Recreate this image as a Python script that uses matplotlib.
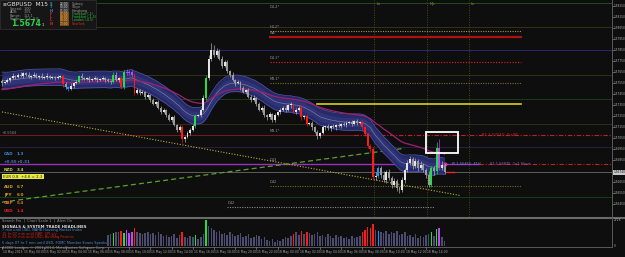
import matplotlib
matplotlib.use("Agg")
import matplotlib.pyplot as plt
from matplotlib.patches import Rectangle
from matplotlib.lines import Line2D
from matplotlib.transforms import blended_transform_factory

# ---------------- data ----------------
symbol = "GBPUSD"
timeframe = "M15"
last_price = 1.5674
open_first = 1.5757

closes = [1.5755, 1.5756, 1.5758, 1.5760, 1.5762, 1.5761, 1.5763, 1.5762, 1.5764, 1.5763,
          1.5761, 1.5762, 1.5763, 1.5761, 1.5762, 1.5760, 1.5761, 1.5762, 1.5760, 1.5761,
          1.5760, 1.5761, 1.5762, 1.5754, 1.5752, 1.5750, 1.5753, 1.5755, 1.5756, 1.5762,
          1.5760, 1.5759, 1.5760, 1.5758, 1.5759, 1.5760, 1.5758, 1.5759, 1.5760, 1.5758,
          1.5757, 1.5756, 1.5763, 1.5758, 1.5760, 1.5752, 1.5765, 1.5764, 1.5765, 1.5763,
          1.5746, 1.5749, 1.5746, 1.5747, 1.5743, 1.5744, 1.5740, 1.5736, 1.5738, 1.5733,
          1.5729, 1.5731, 1.5726, 1.5722, 1.5724, 1.5717, 1.5713, 1.5715, 1.5704, 1.5706,
          1.5710, 1.5713, 1.5716, 1.5725, 1.5726, 1.5731, 1.5742, 1.5760, 1.5777, 1.5785,
          1.5781, 1.5784, 1.5777, 1.5771, 1.5774, 1.5766, 1.5763, 1.5758, 1.5755, 1.5756,
          1.5751, 1.5747, 1.5749, 1.5743, 1.5740, 1.5742, 1.5736, 1.5731, 1.5733, 1.5726,
          1.5724, 1.5727, 1.5722, 1.5726, 1.5729, 1.5731, 1.5733, 1.5731, 1.5735, 1.5736,
          1.5729, 1.5731, 1.5733, 1.5724, 1.5725, 1.5718, 1.5719, 1.5715, 1.5711, 1.5707,
          1.5710, 1.5715, 1.5716, 1.5714, 1.5716, 1.5715, 1.5717, 1.5716, 1.5718, 1.5717,
          1.5719, 1.5720, 1.5718, 1.5721, 1.5719, 1.5720, 1.5715, 1.5709, 1.5698, 1.5695,
          1.5670, 1.5671, 1.5678, 1.5672, 1.5667, 1.5674, 1.5669, 1.5663, 1.5666, 1.5660,
          1.5658, 1.5667, 1.5676, 1.5683, 1.5686, 1.5680, 1.5684, 1.5678, 1.5681, 1.5676,
          1.5672, 1.5663, 1.5678, 1.5675, 1.5696, 1.5678, 1.5681, 1.5674]

# wick lengths in pips beyond the body
wick_up = [2,1,2,1,2,1,1,2,1,1,2,1,2,1,1,2,1,2,1,1,
           1,2,1,1,2,1,2,1,2,1,2,1,1,2,1,2,1,1,2,1,
           2,1,2,2,1,2,2,3,2,2,1,2,1,2,1,2,1,2,1,2,
           1,2,1,2,1,2,1,2,2,1,2,1,2,2,1,2,2,3,4,7,
           5,3,2,3,2,2,1,2,1,2,1,2,1,2,1,2,1,2,1,2,
           1,2,1,2,1,2,1,2,1,2,1,2,1,2,1,2,1,2,1,2,
           1,2,1,2,1,2,1,2,1,2,2,1,2,1,2,1,2,1,2,2,
           2,3,2,2,3,2,3,2,3,2,2,3,2,2,3,2,3,2,3,2,
           2,3,2,2,6,8,3,2]
wick_dn = [2,1,1,2,1,2,1,1,2,1,1,2,1,1,2,1,1,2,1,1,
           2,1,1,2,2,2,1,2,1,1,2,1,1,2,1,1,2,1,1,2,
           1,2,1,1,2,1,2,1,1,2,2,1,2,1,2,1,2,1,2,1,
           2,1,2,1,2,1,2,2,3,2,1,2,1,2,1,2,1,2,2,2,
           2,2,1,2,1,2,2,1,2,1,2,1,2,1,2,1,2,1,2,2,
           2,1,2,2,1,2,1,2,1,2,1,2,1,2,1,2,1,2,1,3,
           2,1,2,1,2,1,2,1,2,1,2,1,2,1,2,1,2,2,2,2,
           2,3,2,3,2,3,2,3,2,3,3,2,3,2,2,3,2,3,2,2,
           3,2,2,3,2,2,2,1]

red_bars = [23, 45, 50, 68, 110, 113, 115, 136, 137, 138, 139, 140]
green_bars = [29, 42, 46, 73, 77, 162, 164]
blue_bars = [25, 142]
violet_bars = [47, 48, 49, 165]

vol_start = 40
volumes = [1100, 1240, 1310, 1380, 1420, 1530, 1290, 1610, 1330, 1400,
           1790, 1420, 1310, 1230, 1350, 1410, 1190, 1280, 1120, 1390,
           1210, 980, 1090, 890, 1020, 1180, 810, 1070, 1420, 930,
           820, 990, 880, 1110, 720, 930, 1180, 2600, 1980, 1790,
           1610, 1400, 1510, 1180, 1290, 1120, 1380, 1190, 1010, 1120,
           1290, 910, 1020, 1180, 830, 920, 1090, 980, 710, 880,
           620, 510, 690, 430, 590, 520, 710, 880, 820, 990,
           1210, 1390, 1120, 1480, 1180, 1420, 1290, 1090, 1230, 1380,
           1020, 1110, 890, 1190, 980, 810, 1120, 930, 1010, 820,
           880, 720, 990, 830, 910, 1020, 1390, 1620, 1880, 1790,
           2210, 1590, 1480, 1420, 1290, 1510, 1180, 1420, 1310, 1490,
           1120, 1190, 1380, 980, 1110, 920, 1190, 830, 1020, 940,
           1080, 1210, 1390, 1010, 1720, 1810, 880, 490]
vol_scale_max = 2726

time_labels = ["14 May 2015", "15 May 00:00", "15 May 02:00", "15 May 04:00", "15 May 06:00",
               "15 May 08:00", "15 May 10:00", "15 May 12:00", "15 May 14:00", "15 May 16:00",
               "15 May 18:00", "15 May 20:00", "15 May 22:00", "18 May 00:00", "18 May 02:00",
               "18 May 04:00", "18 May 06:00", "18 May 08:00", "18 May 10:00", "18 May 12:00",
               "18 May 14:00"]
bars_per_label = 8

price_ticks = [1.5825, 1.5815, 1.5805, 1.5795, 1.5785, 1.5775, 1.5765, 1.5755, 1.5745,
               1.5735, 1.5725, 1.5715, 1.5705, 1.5695, 1.5685, 1.5665, 1.5655, 1.5645]

# moving-average settings (indicator parameters)
band_span, band_seed, band_half = 22, 1.5758, 0.00075
slow_span, slow_seed = 50, 1.5749

# background round-number levels
faint_levels = [1.5828, 1.5806, 1.5785, 1.5763, 1.5741, 1.5718, 1.5697, 1.5652]
faint_colors = ["#1f5a1f", "#38381a", "#2c2c80", "#38381a", "#1c421c", "#3a3020", "#302048", "#1c421c"]

# pivot segments: (price, start bar, end bar, color, style, width, label)
pivot_segments = [
    (1.5803, 101, 196, "#9a9a40", ":", 0.8, "H4.2*"),
    (1.5797, 101, 196, "#b01010", "-", 1.6, "W4"),
    (1.5774, 101, 196, "#c02020", ":", 0.9, "D4.1*"),
    (1.5755, 101, 196, "#707030", ":", 0.8, "M3.1*"),
    (1.5736, 119, 196, "#d8d020", "-", 1.2, ""),
    (1.5662, 101, 196, "#6a6a28", ":", 0.8, "D42"),
    (1.5643, 85, 163, "#8a8a8a", ":", 0.8, "D42"),
]
r1_level, s1_level = 1.5708, 1.5682
session_marks = [140.4, 160.4, 176.2]
session_names = ["Lo", "Mp", "Lo"]
trend_green = [(0, 1.5647), (152, 1.5696)]
trend_yellow = [(0, 1.5729), (173, 1.5653)]
box_bars = (160, 172)
box_prices = (1.5692, 1.5711)

# ---------------- figure ----------------
W, H = 625, 257
BG = "#0e0e0e"
fig = plt.figure(figsize=(W / 100, H / 100), dpi=100, facecolor=BG)

def fx(x):
    return x / W

def fy(y):
    return 1 - y / H

X0, X1 = -0.755, 230.19
ax = fig.add_axes([0, fy(217), fx(612), (217) / H])
axv = fig.add_axes([0, fy(246), fx(612), 28 / H])
for a in (ax, axv):
    a.set_facecolor(BG)
    a.set_xlim(X0, X1)
    for s in a.spines.values():
        s.set_visible(False)
    a.set_xticks([])
    a.set_yticks([])
ax.set_ylim(1.56335, 1.58308)
axv.set_ylim(0, 2800)

n = len(closes)
idx = list(range(n))
opens = [open_first] + closes[:-1]

# faint levels
for lv, c in zip(faint_levels, faint_colors):
    ax.axhline(lv, color=c, lw=0.6, zorder=1)

# session vertical dotted lines
for xm, nm in zip(session_marks, session_names):
    ax.axvline(xm, color="#4a4a1c", lw=0.7, ls=(0, (1, 1.5)), zorder=1)
    ax.text(xm + 0.8, 1.5827, nm, color="#8a8a30", fontsize=2.6, va="center", ha="left", zorder=6)

# R1 / S1 / current price lines
ax.plot([X0, 133], [r1_level, r1_level], color="#6e1c1c", lw=0.8, zorder=2)
ax.plot([133, X1], [r1_level, r1_level], color="#c02020", lw=0.8, ls=(0, (4, 1.5, 1, 1.5)), zorder=2)
ax.plot([X0, 180], [s1_level, s1_level], color="#9a30c0", lw=1.0, zorder=2)
ax.plot([180, X1], [s1_level, s1_level], color="#c02020", lw=0.8, ls=(0, (4, 1.5, 1, 1.5)), zorder=2)
ax.axhline(last_price, color="#6a6a6a", lw=0.6, zorder=2)

# pivot segments
for p, a0, a1, c, ls, lw, lab in pivot_segments:
    style = (0, (1, 1.2)) if ls == ":" else "-"
    ax.plot([a0, a1], [p, p], color=c, lw=lw, ls=style, zorder=2)
    if lab:
        ax.text(a0, p + 0.00018, lab, color="#9a9a9a", fontsize=2.5, va="bottom", ha="left", zorder=6)
ax.text(101, 1.58245, "D4.2*", color="#9a9a9a", fontsize=2.5, va="center", ha="left", zorder=6)
ax.text(101, 1.57095, "M3.1*", color="#9a9a9a", fontsize=2.5, va="bottom", ha="left", zorder=6)
ax.text(101, 1.56835, "D43", color="#9a9a9a", fontsize=2.5, va="bottom", ha="left", zorder=6)

# trend lines
ax.plot([p[0] for p in trend_yellow], [p[1] for p in trend_yellow], color="#b8b030",
        lw=0.8, ls=(0, (1, 1.5)), zorder=2)
ax.plot([p[0] for p in trend_green], [p[1] for p in trend_green], color="#5aa02a",
        lw=0.9, ls=(0, (4, 2.5)), zorder=2)

# moving averages
def ema(vals, span, seed):
    a = 2.0 / (span + 1)
    out, e = [], seed
    for v in vals:
        e = e + a * (v - e)
        out.append(e)
    return out

band = ema(closes, band_span, band_seed)
slow = ema(closes, slow_span, slow_seed)
up = [b + band_half for b in band]
dn = [b - band_half for b in band]
up2 = [b + band_half * 0.55 for b in band]
dn2 = [b - band_half * 0.55 for b in band]
ax.fill_between(idx, dn, up, color="#262a66", lw=0, zorder=3)
ax.fill_between(idx, dn2, up2, color="#2f3478", lw=0, zorder=3)
ax.plot(idx, up, color="#4a50a8", lw=0.6, zorder=3)
ax.plot(idx, dn, color="#4a50a8", lw=0.6, zorder=3)
ax.plot(idx, band, color="#8a8aa0", lw=0.4, zorder=3)
ax.plot(idx, slow, color="#a0206e", lw=0.9, zorder=3)

# candles
special = {}
for i in red_bars:
    special[i] = "#ff1a1a"
for i in green_bars:
    special[i] = "#22dd44"
for i in blue_bars:
    special[i] = "#1e90ff"
for i in violet_bars:
    special[i] = "#c048f0"

for i in idx:
    o, c = opens[i], closes[i]
    hi = max(o, c) + wick_up[i] * 0.0001
    lo = min(o, c) - wick_dn[i] * 0.0001
    col = special.get(i, "#e4e4e4" if c >= o else "#9a9a9a")
    ax.vlines(i, lo, hi, color="#bdbdbd" if i not in special else col, lw=0.45, zorder=4)
    body = abs(c - o)
    if body < 0.00005:
        body = 0.00005
    ax.bar(i, body, bottom=min(o, c), width=0.72, color=col, lw=0, zorder=5)

# white box, markers
ax.add_patch(Rectangle((box_bars[0], box_prices[0]), box_bars[1] - box_bars[0],
                       box_prices[1] - box_prices[0], fill=False, ec="white", lw=1.3, zorder=7))
ax.plot([168, 170.5], [last_price, last_price], color="#ff2020", lw=1.0, zorder=7)
ax.plot([167], [s1_level], marker="o", ms=2.2, mfc="none", mec="#ff40a0", mew=0.6, zorder=7)
ax.text(181, r1_level + 0.00003, "R1 1.57010, 0+0P", color="#c03030", fontsize=2.8,
        va="center", ha="left", zorder=7)
ax.text(170, s1_level - 0.00003, "Pl 1.56451, 41H", color="#7080c0", fontsize=2.6,
        va="center", ha="left", zorder=7)
ax.text(184, s1_level - 0.00003, "S1 1.56825, 1x1 Short", color="#a060d0", fontsize=2.6,
        va="center", ha="left", zorder=7)

# price axis (right)
tr = blended_transform_factory(fig.transFigure, ax.transData)
for p in price_ticks:
    fig.text(fx(614), p, "%.5f" % p, transform=tr, fontsize=2.1, color="#b0b0b0",
             va="center", ha="left")
    fig.add_artist(Line2D([fx(612), fx(613.5)], [p, p], transform=tr, color="#808080", lw=0.5))
fig.text(fx(613.3), last_price, "%.5f" % last_price, transform=tr, fontsize=2.1, color="#101010",
         va="center", ha="left",
         bbox=dict(boxstyle="square,pad=0.15", fc="#c8c8c8", ec="none"))
fig.text(fx(614), fy(220), str(vol_scale_max), fontsize=2.1, color="#b0b0b0", va="center", ha="left")
fig.text(fx(614), fy(246), "0", fontsize=2.1, color="#b0b0b0", va="center", ha="left")

# borders / separators
fig.add_artist(Line2D([0, fx(625)], [fy(217.5), fy(217.5)], color="#6a6a6a", lw=1.5))
fig.add_artist(Line2D([fx(612), fx(612)], [fy(0), fy(247)], color="#5a5a5a", lw=0.7))
fig.add_artist(Line2D([0, fx(612)], [fy(247), fy(247)], color="#5a5a5a", lw=0.7))

# volume bars
for k, v in enumerate(volumes):
    i = vol_start + k
    col = special.get(i, "#4c4c70")
    axv.bar(i, v, width=0.6, color=col, lw=0)

# time axis
for k, lab in enumerate(time_labels):
    i = k * bars_per_label
    xp = (i - X0) / (X1 - X0) * 612
    fig.add_artist(Line2D([fx(xp), fx(xp)], [fy(247), fy(249)], color="#808080", lw=0.5))
    fig.text(fx(xp + 0.8), fy(252.5), lab, fontsize=2.2, color="#a8a8a8", va="center", ha="left")

# ---- top-left info panel ----
fig.add_artist(Rectangle((0, fy(29)), fx(96), 29 / H, transform=fig.transFigure,
                         fc="#161616", ec="#333333", lw=0.5))
fig.text(fx(3), fy(4.5), "\u25a0", fontsize=3, color="#7a7a7a", va="center", ha="left")
fig.text(fx(7), fy(4.5), "%s  %s" % (symbol, timeframe), fontsize=4.2, color="#e8e8e8",
         va="center", ha="left")
info_rows = [("Spread:", "1.00"), ("ADR:", "1.05"), ("Range:", "152.1"), ("Swaps:", "-0.4 -0.6")]
for k, (a, b) in enumerate(info_rows):
    fig.text(fx(10), fy(9 + 3.3 * k), a, fontsize=2.4, color="#9a9a9a", va="center", ha="left")
    fig.text(fx(24), fy(9 + 3.3 * k), b, fontsize=2.4, color="#9a9a9a", va="center", ha="left")
fig.text(fx(11), fy(24), "%.4f" % last_price, fontsize=5.6, color="#2ed24a", va="center",
         ha="left", weight="bold")
fig.text(fx(42), fy(24.5), "1", fontsize=3, color="#d0d0d0", va="center", ha="left")
sess_names = ["Sydney", "Tokyo", "Hongkong", "Frankfurt (-1)", "Frankfurt (-1.5)", "London (-0.5)", "NewYork"]
sess_cols = ["#9a9a9a", "#9a9a9a", "#9a9a9a", "#2ec040", "#2ec040", "#2ec040", "#e02020"]
sess_marks = ["S", "T", "H", "F", "L", "L", "N"]
mark_cols = ["#3a8ad0", "#2aa0a0", "#3a8ad0", "#c03030", "#c03030", "#c03030", "#e02020"]
sess_times = ["22:00", "00:00", "01:00", "07:00", "08:00", "08:00", "13:00"]
for k in range(len(sess_names)):
    yy = fy(4 + 3.3 * k)
    fig.text(fx(50), yy, sess_marks[k], fontsize=2.6, color=mark_cols[k], va="center", ha="left",
             weight="bold")
    fig.text(fx(60), yy, sess_times[k], fontsize=2.1, color="#d0d0d0" if k < 3 else "#f0c080",
             va="center", ha="left",
             bbox=dict(boxstyle="square,pad=0.05", fc="#3a3a3a" if k < 3 else "#7a4a10", ec="none"))
    fig.text(fx(72), yy, sess_names[k], fontsize=2.3, color=sess_cols[k], va="center", ha="left")

# ---- currency strength list (left) ----
fig.text(fx(2), fy(133), "+0.5584", fontsize=2.5, color="#8a8a8a", va="center", ha="left")
cur_rows = [("CAD", "1.3", "#3a8ad0", 154), ("+0.55", "+0.31", "#4a7ac0", 162),
            ("NZD", "3.4", "#c8c850", 170), ("AUD", "6.7", "#c8a030", 187),
            ("JPY", "6.0", "#d8a020", 195), ("GBP", "5.4", "#e07020", 203),
            ("USD", "1.4", "#e02020", 211)]
for a, b, c, y in cur_rows:
    fig.text(fx(4), fy(y), a, fontsize=3.0, color=c, va="center", ha="left", weight="bold")
    fig.text(fx(17), fy(y), b, fontsize=3.0, color=c, va="center", ha="left", weight="bold")
fig.text(fx(3), fy(176.5), "EUR 0.8  +4.6 = 2.3 ", fontsize=2.8, color="#202020", va="center",
         ha="left", bbox=dict(boxstyle="square,pad=0.15", fc="#e8e840", ec="none"))

# ---- sub-window text ----
fig.text(fx(2), fy(220), "Search Pro  |  Chart Scale 1  |  Alert On", fontsize=2.6,
         color="#909090", va="center", ha="left")
fig.text(fx(2), fy(226.5), "SIGNALS & SYSTEM TRADE HEADLINES", fontsize=2.8, color="#d8d8d8",
         va="center", ha="left", weight="bold")
news = [("7 min until USD, NAHB Housing Market Index", "#4a90e0", 230),
        ("15 hr 07 min until GBP, CPI y/y", "#e02020", 233.5),
        ("22 hr 07 min until USD, Building Permits", "#e02020", 237),
        ("5 days 07 hr 7 min until USD, FOMC Member Evans Speaks", "#4a90e0", 243)]
for t, c, y in news:
    fig.text(fx(2), fy(y), t, fontsize=2.5, color=c, va="center", ha="left")
fig.text(fx(2), fy(248), "A3000 London, \u00a9 2001-2014, MetaQuotes Software Corp.", fontsize=2.5,
         color="#909090", va="center", ha="left")

fig.savefig("out.png", dpi=100, facecolor=BG)
